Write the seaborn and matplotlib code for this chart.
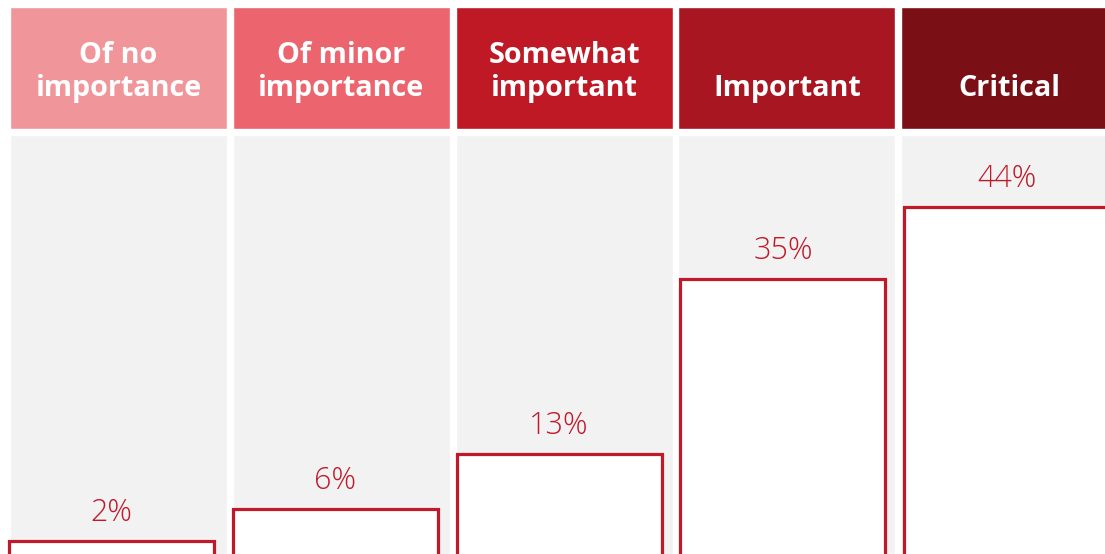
import matplotlib
matplotlib.use("Agg")
import matplotlib.pyplot as plt
import seaborn as sns
import pandas as pd

# Survey results: share of respondents per importance rating
categories = ["Of no\nimportance", "Of minor\nimportance", "Somewhat\nimportant", "Important", "Critical"]
shares = [2, 6, 13, 35, 44]
header_colors = ["#F0969B", "#EB646E", "#C01926", "#A81621", "#7A0F15"]

RED = "#C01A2A"
PANEL = "#F2F2F2"

sns.set_theme(style="white")
plt.rcParams["font.family"] = ["Lato", "DejaVu Sans"]

W, H = 1105, 554
fig = plt.figure(figsize=(W / 100, H / 100), dpi=100, facecolor="white")

df = pd.DataFrame({"category": categories, "share": shares})
n = len(categories)

# column grid (pixel geometry of the layout)
col_pitch = 222.75
col_center0 = 118.5
col_width = 217 / col_pitch
xlim_cols = ((0 - col_center0) / col_pitch, (W - col_center0) / col_pitch)

# value scale: 0% sits just below the lower edge, ~7.95 px per percent
px_per_pct = 7.95
zero_px = 557
panel_top = 135
ylim = ((zero_px - H) / px_per_pct, (zero_px - panel_top) / px_per_pct)
panel_frac = (H - panel_top) / H

# header band
header_top, header_bottom = 7, 129
axh = fig.add_axes([0, (H - header_bottom) / H, 1, (header_bottom - header_top) / H])
axh.bar(range(n), [1] * n, width=col_width, color=header_colors, bottom=0)
axh.set_xlim(*xlim_cols)
axh.set_ylim(0, 1)
axh.axis("off")
line_gap = 33 / (header_bottom - header_top)
base = (header_bottom - 96) / (header_bottom - header_top)
for i, label in enumerate(categories):
    lines = label.split("\n")
    for j, line in enumerate(reversed(lines)):
        axh.text(i, base + j * line_gap, line, ha="center", va="baseline",
                 color="white", fontsize=20.7, fontweight="bold",
                 family=["Open Sans", "DejaVu Sans"])

# grey column panels
axp = fig.add_axes([0, 0, 1, panel_frac])
axp.bar(range(n), [ylim[1] - ylim[0]] * n, bottom=ylim[0], width=col_width, color=PANEL)
axp.set_xlim(*xlim_cols)
axp.set_ylim(*ylim)
axp.axis("off")

# value bars
bar_pitch = 223.8
bar_center0 = 111.5
axb = fig.add_axes([0, 0, 1, panel_frac])
axb.patch.set_alpha(0)
sns.barplot(data=df, x="category", y="share", ax=axb, width=205 / bar_pitch,
            color="white", saturation=1, edgecolor=RED, linewidth=2.3)
axb.set_xlim((0 - bar_center0) / bar_pitch, (W - bar_center0) / bar_pitch)
axb.set_ylim(*ylim)
axb.axis("off")
for i, v in enumerate(shares):
    axb.text(i, v + 20 / px_per_pct, f"{v}%", ha="center", va="baseline",
             color=RED, fontsize=22, fontweight="light",
             family=["Open Sans", "DejaVu Sans"])

fig.savefig("out.png", dpi=100, facecolor="white")
